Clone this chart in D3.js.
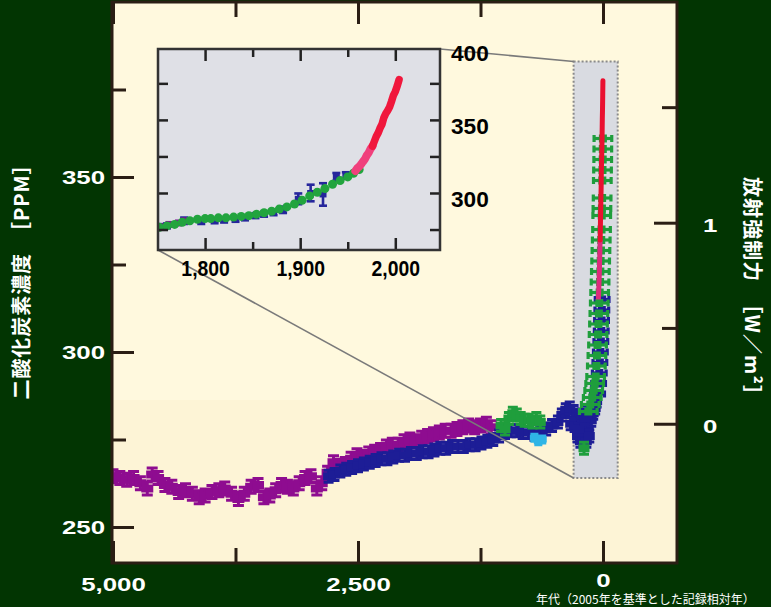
<!DOCTYPE html>
<html><head><meta charset="utf-8">
<script src="https://cdn.jsdelivr.net/npm/d3@7"></script>
<style>
html,body{margin:0;padding:0;background:#023502;}
svg{display:block}
</style></head><body>
<svg id="c" width="771" height="607"></svg>
<script>
// ---------------- DATA ----------------
const presentYear = 2005;
// main panel: years before present / CO2 ppm
const purpleBp  = [5000,4930,4860,4790,4720,4650,4600,4540,4470,4400,4330,4260,4190,4120,4060,3990,3920,3860,3790,3720,3660,3590,3520,3460,3400,3340,3280,3220,3160,3100,3040,2980,2920,2870,2810,2750,2690,2630,2570,2510,2450,2390,2330,2270,2210,2150,2090,2030,1970,1910,1850,1790,1730,1670,1610,1550,1490,1430,1370,1310,1250,1190,1140];
const purplePpm = [264.5,264,263.5,264,262.5,261,265,264,262,261.5,260,260.5,259.5,258.5,259,260,260.5,261,259.5,258,259.5,261.5,262,258.5,259,260.5,262,261.5,261,262.5,264,264.5,261,262.5,265.5,268.5,267.5,268,269.5,270.5,270,271,271.5,272,273,273.5,273.5,274.5,275,274.5,275.5,276,276.5,277,277.5,277.5,278,278.5,279,278.5,279,279.5,278.5];
const blueBp  = [2800,2740,2680,2620,2560,2500,2440,2380,2320,2260,2200,2140,2080,2020,1960,1900,1840,1780,1720,1660,1600,1540,1480,1420,1360,1300,1240,1180,1120,1060,1000,940,880,820,760,700,640,580,520,460,420,380,340,300,270,240,210,180,150,120,100,80,65,260,230,200,170,140,330,290,250,215,185,160];
const bluePpm = [264.5,265,266,266.5,267,267.5,268,268.5,269,269.5,269.5,270,270.5,270.5,271,271,271.5,271.5,272,272.5,272.5,273,273,273,273.5,273.5,274,274.5,275,276,277,277.5,277.5,277,277,276.5,277,278,279,280,282,283.5,284,283,281.5,280,278.5,277,278,280.5,282.5,284,286,276,274.5,275,274.5,276,279.5,279,278,282,281,283];
const blueNowBp  = [55,45,38,32,27,22,18,15,12,9];
const blueNowPpm = [288,291,294,297,300,303,306,309,312,315];
const cyanBp  = [700,660,620];
const cyanPpm = [275.5,274.5,275];
const greenOldBp  = [1040,1000,960,920,880,840,800,760,720,680,640,194];
const greenOldPpm = [279,278,281,282.5,282,281,280.5,280.5,280,281,280,272.5];
const greenNowBp  = [150,130,110,95,85,75,68,62,56,50,46,42,38,34,30,27,24,21,18,15,13,11,9,7,5,3,2,1];
const greenNowPpm = [283,285,287,289,291,293,296,299,302,305,308,311,314,317,320,323,326,329,332,335,339,341,344,349,352,355,358,361];
const pinkYear = [1958,1960,1962,1964,1966,1968,1970,1972,1974,1976];
const pinkPpm  = [315,316.9,318,319.6,321.4,323.1,325.7,327.5,330.2,332];
const redYear  = [1976,1978,1980,1982,1984,1986,1988,1990,1992,1994,1996,1998,2000,2002,2004];
const redPpm   = [332,335.4,338.7,341.1,344.4,347,351.6,354.4,356.4,358.8,362.6,366.7,369.4,373.2,377.5];
// inset: calendar years
const insetPurpleYear = [1752,1762,1772,1778];
const insetPurplePpm  = [277,278.5,279.5,281];
const insetBlueYear = [1752,1760,1778,1796,1810,1820,1832,1842,1853,1862,1872,1882,1898,1911,1924,1938,1948];
const insetBluePpm  = [277,277.5,281,280.5,281,281.5,282,283,284.5,285.5,286.5,288.5,296,300,299,311,312];
const insetBlueErr  = [1,1,1.5,1,1,1,1,1,1,1,1,1.5,3,5,7,2,1.5];
const insetGreenYear = [1752,1760,1768,1776,1784,1792,1800,1806,1814,1822,1830,1838,1846,1854,1862,1870,1878,1886,1894,1902,1910,1918,1926,1934,1942,1950,1956,1962];
const insetGreenPpm  = [276.5,277.5,278.5,280,281,282,282.5,282.5,283,283,283.5,284,284.5,285.5,286.5,287.5,289,290.5,292.5,295,298,300.5,303,306,308.5,311,313.5,316];
// ticks
const leftMajor = [250,300,350], leftMinor = [275,325,375];
const xMajor = [5000,2500,0], xMinor = [3750,1250];
const forcingMajor = [0,1], forcingMinor = [0.5,1.5];
const refPpm = 279.5;           // forcing = 5.35 ln(C / refPpm)
const insetXMajor = [1800,1900,2000], insetXMinor = [1850,1950];
const insetYTicks = [275,300,325,350,375], insetYLabels = [300,350,400];
const boxBp = [300,-150], boxPpm = [264,383];

// ---------------- DRAW ----------------
const W=771,H=607;
const svg=d3.select("#c");
const bg="#023502", ink="#2a1e14";
svg.append("rect").attr("width",W).attr("height",H).attr("fill",bg);

const P={l:112,r:677,t:2,b:563};
const x=d3.scaleLinear().domain([5010,-755]).range([P.l,P.r]);
const y=d3.scaleLinear().domain([240,400]).range([562,2]);

svg.append("rect").attr("x",P.l).attr("y",P.t).attr("width",P.r-P.l).attr("height",P.b-P.t).attr("fill","#fff9de");
svg.append("rect").attr("x",P.l).attr("y",400).attr("width",P.r-P.l).attr("height",P.b-400).attr("fill","#fdf4d6");

const defs=svg.append("defs");
defs.append("clipPath").attr("id","mclip").append("rect").attr("x",P.l).attr("y",P.t).attr("width",P.r-P.l).attr("height",P.b-P.t);

// highlight box
svg.append("rect")
  .attr("x",x(boxBp[0])).attr("y",y(boxPpm[1]))
  .attr("width",x(boxBp[1])-x(boxBp[0])).attr("height",y(boxPpm[0])-y(boxPpm[1]))
  .attr("fill","#d9dbe1").attr("stroke","#8a8a8a").attr("stroke-width",2).attr("stroke-dasharray","2,2");

const main=svg.append("g").attr("clip-path","url(#mclip)");

function ibars(g, xs, ys, color, errPx, w, h, capW){
  const s=g.append("g").attr("stroke",color).attr("fill",color).attr("stroke-width",3)
    .selectAll("g").data(d3.zip(xs,ys)).enter().append("g")
    .attr("transform",d=>`translate(${x(d[0])},${y(d[1])})`);
  s.append("line").attr("y1",-errPx).attr("y2",errPx);
  s.append("line").attr("x1",-capW/2).attr("x2",capW/2).attr("y1",-errPx).attr("y2",-errPx);
  s.append("line").attr("x1",-capW/2).attr("x2",capW/2).attr("y1",errPx).attr("y2",errPx);
  s.append("rect").attr("x",-w/2).attr("y",-h/2).attr("width",w).attr("height",h).attr("stroke","none");
}
function hbars(g, xs, ys, color, errYears, sz){
  const s=g.append("g").attr("stroke",color).attr("fill",color).attr("stroke-width",3.2)
    .selectAll("g").data(d3.zip(xs,ys)).enter().append("g");
  s.append("line").attr("x1",d=>x(d[0]+errYears)).attr("x2",d=>x(d[0]-errYears)).attr("y1",d=>y(d[1])).attr("y2",d=>y(d[1]));
  s.append("line").attr("x1",d=>x(d[0]+errYears)).attr("x2",d=>x(d[0]+errYears)).attr("y1",d=>y(d[1])-3.5).attr("y2",d=>y(d[1])+3.5);
  s.append("line").attr("x1",d=>x(d[0]-errYears)).attr("x2",d=>x(d[0]-errYears)).attr("y1",d=>y(d[1])-3.5).attr("y2",d=>y(d[1])+3.5);
  s.append("rect").attr("x",d=>x(d[0])-sz/2).attr("y",d=>y(d[1])-sz/2).attr("width",sz).attr("height",sz).attr("stroke","none");
}
const cPurple="#8e0c90", cBlue="#1d1d96", cGreen="#1f9e3c", cCyan="#2fb5e6", cRed="#ea1030", cPink="#dc2c7c";
ibars(main, purpleBp, purplePpm, cPurple, 6.5, 12, 8, 11);
ibars(main, blueBp, bluePpm, cBlue, 6, 11, 8, 10);
ibars(main, cyanBp, cyanPpm, cCyan, 3.5, 9, 6, 8);
ibars(main, greenOldBp, greenOldPpm, cGreen, 6, 11, 8, 10);
hbars(main, blueNowBp, blueNowPpm, cBlue, 70, 8);
hbars(main, greenNowBp, greenNowPpm, cGreen, 90, 8);
const mline=d3.line().x(d=>x(presentYear-d[0])).y(d=>y(d[1]));
main.append("path").attr("d",mline(d3.zip(pinkYear,pinkPpm))).attr("fill","none").attr("stroke",cPink).attr("stroke-width",5);
main.append("path").attr("d",mline(d3.zip(redYear,redPpm))).attr("fill","none").attr("stroke",cRed).attr("stroke-width",5).attr("stroke-linecap","round");

// inset geometry
const I={l:158,r:440,t:49,b:250};
const xi=d3.scaleLinear().domain([1750.5,2047]).range([I.l,I.r]);
const yi=d3.scaleLinear().domain([261,398.5]).range([I.b,I.t]);

// connectors
svg.append("line").attr("x1",I.r).attr("y1",I.t).attr("x2",x(boxBp[0])).attr("y2",y(boxPpm[1])).attr("stroke","#7a7a7a").attr("stroke-width",1.6);
svg.append("line").attr("x1",I.l).attr("y1",I.b).attr("x2",x(boxBp[0])).attr("y2",y(boxPpm[0])).attr("stroke","#7a7a7a").attr("stroke-width",1.6);

// main axes
const FONT="'Liberation Sans', Arial, sans-serif";
function styleAx(g, color, sw){
  g.select(".domain").remove();
  g.attr("font-family",FONT).attr("font-size",19).attr("font-weight","bold");
  g.selectAll(".tick line").attr("stroke",color).attr("stroke-width",sw);
  g.selectAll(".tick text").attr("fill","#ffffff");
}
function stretch(g, f){
  g.selectAll(".tick text").each(function(){
    const w=this.getComputedTextLength();
    d3.select(this).attr("textLength",w*f).attr("lengthAdjust","spacingAndGlyphs");
  });
}
let g;
g=svg.append("g").attr("transform",`translate(${P.l},0)`).call(d3.axisLeft(y).tickValues(leftMajor).tickSizeInner(-22).tickSizeOuter(0).tickPadding(7).tickFormat(d3.format("d")));
styleAx(g,ink,3); stretch(g,1.36);
g=svg.append("g").attr("transform",`translate(${P.l},0)`).call(d3.axisLeft(y).tickValues(leftMinor).tickSizeInner(-14).tickSizeOuter(0).tickFormat(""));
styleAx(g,ink,3);
const fToPpm=f=>refPpm*Math.exp(f/5.35);
g=svg.append("g").attr("transform",`translate(${P.r},0)`).call(d3.axisRight(y).tickValues(forcingMajor.map(fToPpm)).tickSizeInner(-23).tickSizeOuter(0).tickPadding(26).tickFormat((d,i)=>String(forcingMajor[i])));
styleAx(g,ink,3); stretch(g,1.36);
g.selectAll(".tick text").attr("dy","0.45em");
g=svg.append("g").attr("transform",`translate(${P.r},0)`).call(d3.axisRight(y).tickValues(forcingMinor.map(fToPpm)).tickSizeInner(-15).tickSizeOuter(0).tickFormat(""));
styleAx(g,ink,3);
g=svg.append("g").attr("transform",`translate(0,${P.b})`).call(d3.axisBottom(x).tickValues(xMajor).tickSizeInner(-22).tickSizeOuter(0).tickPadding(15).tickFormat(d3.format(",")));
styleAx(g,ink,3); stretch(g,1.36);
g.selectAll(".tick text").filter(d=>d===0).attr("dy","0.45em");
g=svg.append("g").attr("transform",`translate(0,${P.b})`).call(d3.axisBottom(x).tickValues(xMinor).tickSizeInner(-15).tickSizeOuter(0).tickFormat(""));
styleAx(g,ink,3);
g=svg.append("g").attr("transform",`translate(0,${P.t})`).call(d3.axisTop(x).tickValues(xMajor).tickSizeInner(-22).tickSizeOuter(0).tickFormat(""));
styleAx(g,ink,3);
g=svg.append("g").attr("transform",`translate(0,${P.t})`).call(d3.axisTop(x).tickValues(xMinor).tickSizeInner(-15).tickSizeOuter(0).tickFormat(""));
styleAx(g,ink,3);

svg.append("rect").attr("x",P.l).attr("y",P.t).attr("width",P.r-P.l).attr("height",P.b-P.t)
  .attr("fill","none").attr("stroke",ink).attr("stroke-width",3);

// axis titles
const JP="'Noto Sans CJK JP','Noto Sans CJK SC',sans-serif";
svg.append("text").attr("transform","translate(29,277) rotate(-90)").attr("text-anchor","middle")
  .attr("font-family",JP).attr("font-weight","bold").attr("font-size",20).attr("fill","#fff")
  .attr("textLength",245).attr("lengthAdjust","spacing")
  .text("二酸化炭素濃度　［PPM］");
svg.append("text").attr("transform","translate(745,291) rotate(90)").attr("text-anchor","middle")
  .attr("font-family",JP).attr("font-weight","bold").attr("font-size",20).attr("fill","#fff")
  .attr("textLength",228).attr("lengthAdjust","spacing")
  .text("放射強制力　［W／m²］");
svg.append("text").attr("x",536).attr("y",604).attr("font-family",JP).attr("font-size",12).attr("fill","#fff")
  .text("年代（2005年を基準とした記録相対年）");

// ---------------- INSET ----------------
const ins=svg.append("g");
ins.append("rect").attr("x",I.l).attr("y",I.t).attr("width",I.r-I.l).attr("height",I.b-I.t).attr("fill","#dfe0e6");
defs.append("clipPath").attr("id","iclip").append("rect").attr("x",I.l).attr("y",I.t).attr("width",I.r-I.l).attr("height",I.b-I.t);
const idata=ins.append("g").attr("clip-path","url(#iclip)");
// blue error bars
const ib=idata.append("g").attr("stroke","#26269c").attr("fill","#26269c").attr("stroke-width",2.6)
  .selectAll("g").data(insetBlueYear.map((d,i)=>[d,insetBluePpm[i],insetBlueErr[i]])).enter().append("g");
ib.append("line").attr("x1",d=>xi(d[0])).attr("x2",d=>xi(d[0])).attr("y1",d=>yi(d[1]+d[2])-1).attr("y2",d=>yi(d[1]-d[2])+1);
ib.append("line").attr("x1",d=>xi(d[0])-4).attr("x2",d=>xi(d[0])+4).attr("y1",d=>yi(d[1]+d[2])-1).attr("y2",d=>yi(d[1]+d[2])-1);
ib.append("line").attr("x1",d=>xi(d[0])-4).attr("x2",d=>xi(d[0])+4).attr("y1",d=>yi(d[1]-d[2])+1).attr("y2",d=>yi(d[1]-d[2])+1);
ib.append("rect").attr("x",d=>xi(d[0])-3.5).attr("y",d=>yi(d[1])-3).attr("width",7).attr("height",6).attr("stroke","none");
idata.append("g").selectAll("rect").data(d3.zip(insetPurpleYear,insetPurplePpm)).enter().append("rect")
  .attr("x",d=>xi(d[0])-3.5).attr("y",d=>yi(d[1])-3.5).attr("width",7).attr("height",7).attr("fill","#7a1c92");
idata.append("g").selectAll("circle").data(d3.zip(insetGreenYear,insetGreenPpm)).enter().append("circle")
  .attr("cx",d=>xi(d[0])).attr("cy",d=>yi(d[1])).attr("r",4.5).attr("fill","#22a43e");
const iline=d3.line().x(d=>xi(d[0])).y(d=>yi(d[1]));
idata.append("path").attr("d",iline(d3.zip(pinkYear,pinkPpm))).attr("fill","none").attr("stroke","#f0407c").attr("stroke-width",8).attr("stroke-linecap","round");
idata.append("path").attr("d",iline(d3.zip(redYear,redPpm))).attr("fill","none").attr("stroke","#f0173c").attr("stroke-width",7.5).attr("stroke-linecap","round");

function styleIn(g){
  g.select(".domain").remove();
  g.attr("font-family",FONT).attr("font-size",22).attr("font-weight","bold");
  g.selectAll(".tick line").attr("stroke","#222").attr("stroke-width",2.5);
  g.selectAll(".tick text").attr("fill","#000");
}
g=ins.append("g").attr("transform",`translate(0,${I.b})`).call(d3.axisBottom(xi).tickValues(insetXMajor).tickSizeInner(-12).tickSizeOuter(0).tickPadding(10).tickFormat(d3.format(",")));
styleIn(g); stretch(g,0.88);
g=ins.append("g").attr("transform",`translate(0,${I.b})`).call(d3.axisBottom(xi).tickValues(insetXMinor).tickSizeInner(-8).tickSizeOuter(0).tickFormat(""));
styleIn(g);
g=ins.append("g").attr("transform",`translate(0,${I.t})`).call(d3.axisTop(xi).tickValues(insetXMajor).tickSizeInner(-12).tickSizeOuter(0).tickFormat(""));
styleIn(g);
g=ins.append("g").attr("transform",`translate(0,${I.t})`).call(d3.axisTop(xi).tickValues(insetXMinor).tickSizeInner(-8).tickSizeOuter(0).tickFormat(""));
styleIn(g);
g=ins.append("g").attr("transform",`translate(${I.l},0)`).call(d3.axisLeft(yi).tickValues(insetYTicks).tickSizeInner(-10).tickSizeOuter(0).tickFormat(""));
styleIn(g);
g=ins.append("g").attr("transform",`translate(${I.r},0)`).call(d3.axisRight(yi).tickValues(insetYTicks).tickSizeInner(-10).tickSizeOuter(0).tickFormat(""));
styleIn(g);
ins.append("rect").attr("x",I.l).attr("y",I.t).attr("width",I.r-I.l).attr("height",I.b-I.t).attr("fill","none").attr("stroke","#333").attr("stroke-width",2.5);
g=ins.append("g").attr("transform",`translate(${I.r},0)`).call(d3.axisRight(yi).tickValues(insetYLabels).tickSize(0).tickPadding(11).tickFormat(d3.format("d")));
styleIn(g); stretch(g,1.03);
g.selectAll(".tick text").attr("dy","0.62em");
</script>
</body></html>
